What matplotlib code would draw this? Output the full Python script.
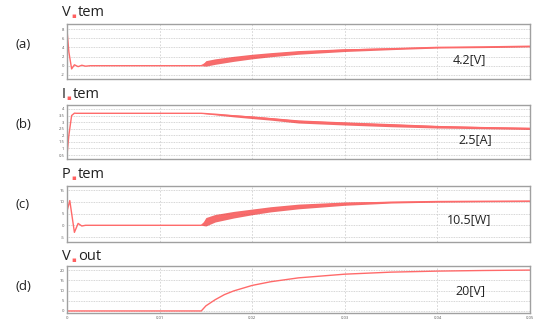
import matplotlib
matplotlib.use("Agg")
import matplotlib.pyplot as plt
import numpy as np

plt.rcParams['font.family'] = ['Open Sans', 'DejaVu Sans']

# ---- data ----
t_a = [0, 0.0002, 0.0005, 0.0008, 0.0012, 0.0016, 0.002, 0.0025, 0.0145, 0.015, 0.016, 0.018, 0.02, 0.022, 0.025, 0.03, 0.035, 0.04, 0.045, 0.05]
v_tem = [7.8, 3.0, -0.7, 0.2, -0.2, 0.1, -0.1, 0, 0, 0.5, 0.9, 1.5, 2.0, 2.4, 2.9, 3.4, 3.7, 4.0, 4.1, 4.25]
v_tem_rip = [0, 0, 0, 0, 0, 0, 0, 0, 0, 0.6, 0.6, 0.55, 0.5, 0.45, 0.4, 0.3, 0.2, 0.15, 0.15, 0.15]

t_b = [0, 0.0002, 0.0005, 0.0008, 0.001, 0.0145, 0.016, 0.018, 0.02, 0.022, 0.025, 0.03, 0.035, 0.04, 0.045, 0.05]
i_tem = [0.5, 2.0, 3.5, 3.68, 3.67, 3.67, 3.6, 3.48, 3.37, 3.25, 3.05, 2.9, 2.77, 2.65, 2.58, 2.52]
i_tem_rip = [0, 0, 0, 0, 0, 0, 0.05, 0.08, 0.1, 0.1, 0.12, 0.12, 0.12, 0.1, 0.08, 0.08]

t_c = [0, 0.0003, 0.0008, 0.0012, 0.0016, 0.002, 0.0145, 0.015, 0.016, 0.018, 0.02, 0.022, 0.025, 0.03, 0.035, 0.04, 0.045, 0.05]
p_tem = [6.0, 10.5, -3.0, 0.8, -0.3, 0, 0, 1.5, 3.0, 4.5, 5.7, 6.8, 8.0, 9.2, 9.8, 10.1, 10.2, 10.3]
p_tem_rip = [0, 0, 0, 0, 0, 0, 0, 1.8, 1.6, 1.4, 1.2, 1.1, 1.0, 0.7, 0.35, 0.25, 0.2, 0.2]

t_d = [0, 0.0145, 0.015, 0.016, 0.017, 0.018, 0.02, 0.022, 0.025, 0.03, 0.035, 0.04, 0.045, 0.05]
v_out = [0, 0, 2.5, 5.5, 8.0, 9.8, 12.5, 14.3, 16.2, 18.0, 19.0, 19.5, 19.8, 20.0]

x_ticks = [0, 0.01, 0.02, 0.03, 0.04, 0.05]
x_tick_labels = ["0", "0.01", "0.02", "0.03", "0.04", "0.05"]

panels = [
    dict(tag="(a)", title="V", sub="tem", t=t_a, y=v_tem, rip=v_tem_rip,
         yticks=[-2, 0, 2, 4, 6, 8], ylim=(-2.9, 9.1), note="4.2[V]"),
    dict(tag="(b)", title="I", sub="tem", t=t_b, y=i_tem, rip=i_tem_rip,
         yticks=[0.5, 1, 1.5, 2, 2.5, 3, 3.5, 4], ylim=(0.2, 4.3), note="2.5[A]"),
    dict(tag="(c)", title="P", sub="tem", t=t_c, y=p_tem, rip=p_tem_rip,
         yticks=[-5, 0, 5, 10, 15], ylim=(-7.1, 16.7), note="10.5[W]"),
    dict(tag="(d)", title="V", sub="out", t=t_d, y=v_out, rip=None,
         yticks=[0, 5, 10, 15, 20], ylim=(-1.0, 22.0), note="20[V]"),
]

W, H = 534, 322
fig = plt.figure(figsize=(W / 100, H / 100), dpi=100)

boxes = [(24, 79), (105, 159), (186, 242), (266, 313)]
left_px, right_px = 67, 530
title_y = [13, 95, 175, 257]
sub_x = [74, 69, 74, 74]
tag_y = [44, 124, 204, 286]
note_pos = [(453, 60), (458, 140), (447, 220), (455, 291)]

for i, p in enumerate(panels):
    top, bot = boxes[i]
    ax = fig.add_axes([left_px / W, 1 - bot / H, (right_px - left_px) / W, (bot - top) / H])
    ax.set_xlim(0, 0.05)
    ax.set_ylim(*p["ylim"])
    ax.set_yticks(p["yticks"])
    ax.set_yticklabels([("%g" % v) for v in p["yticks"]], fontsize=3, color="#555555")
    ax.set_xticks(x_ticks)
    if i == 3:
        ax.set_xticklabels(x_tick_labels, fontsize=3, color="#555555")
    else:
        ax.set_xticklabels([])
    ax.tick_params(length=0, pad=2)
    for s in ax.spines.values():
        s.set_color("#a0a0a0")
        s.set_linewidth(1.0)
    ax.yaxis.grid(True, linestyle=(0, (1, 1)), color="#c8c8c8", linewidth=0.6)
    ax.xaxis.grid(True, linestyle=(0, (2, 2)), color="#d0d0d0", linewidth=0.6)
    ax.set_axisbelow(True)

    t = np.array(p["t"])
    y = np.array(p["y"])
    ax.plot(t, y, color="#ff6a6a", linewidth=1.0)
    if p["rip"] is not None:
        r = np.array(p["rip"])
        ax.fill_between(t, y - r, y + r, color="#f03c3c", alpha=0.75, linewidth=0)

    fig.text(23 / W, 1 - tag_y[i] / H, p["tag"], fontsize=9.5, color="#222222",
             ha="center", va="center")
    fig.text(62 / W, 1 - title_y[i] / H, p["title"], fontsize=10.5,
             color="#222222", ha="left", va="center")
    fig.text(sub_x[i] / W, 1 - (title_y[i] + 4) / H, "\u25aa", fontsize=5,
             color="#ff6060", ha="center", va="center")
    fig.text((sub_x[i] + 4) / W, 1 - title_y[i] / H, p["sub"], fontsize=10.5,
             color="#222222", ha="left", va="center")
    nx, ny = note_pos[i]
    fig.text(nx / W, 1 - ny / H, p["note"], fontsize=9, color="#222222",
             ha="left", va="center")

fig.savefig("out.png", dpi=100)
